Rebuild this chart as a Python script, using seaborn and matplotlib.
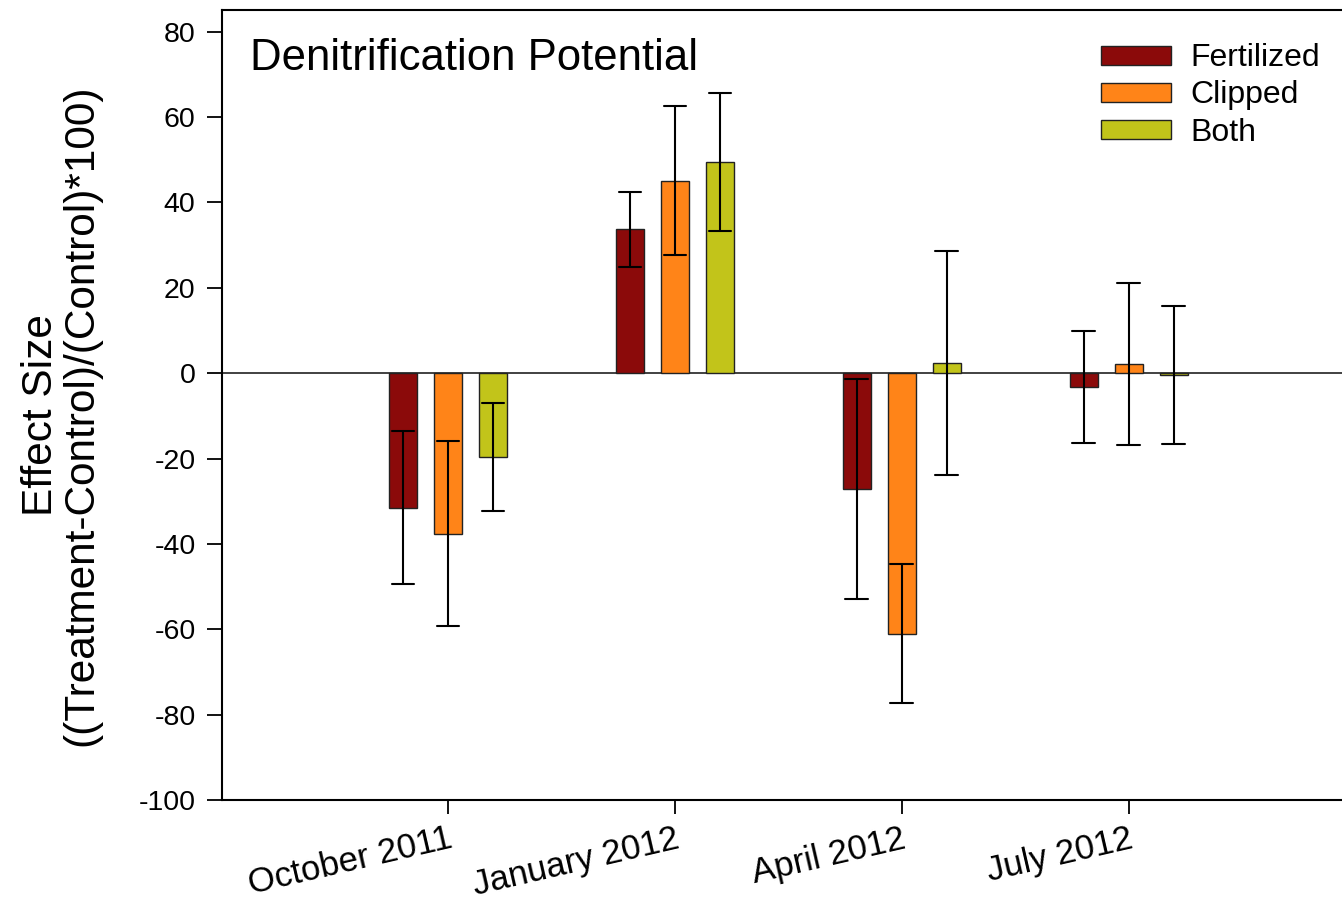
import matplotlib
matplotlib.use("Agg")
import matplotlib.pyplot as plt
import numpy as np
import pandas as pd
import seaborn as sns

# Sampling dates and treatments
dates = ["October 2011", "January 2012", "April 2012", "July 2012"]
treatments = ["Fertilized", "Clipped", "Both"]
colors = ["#8b0a0a", "#ff8418", "#c2c41a"]

# Effect size (%) and its error, per treatment, in date order
fertilized_mean = [-31.5, 33.7, -27.1, -3.2]
fertilized_err = [17.9, 8.7, 25.8, 13.1]
clipped_mean = [-37.6, 45.1, -61.0, 2.2]
clipped_err = [21.6, 17.5, 16.3, 19.0]
both_mean = [-19.6, 49.5, 2.4, -0.35]
both_err = [12.6, 16.1, 26.2, 16.2]

means = {"Fertilized": fertilized_mean, "Clipped": clipped_mean, "Both": both_mean}
errs = {"Fertilized": fertilized_err, "Clipped": clipped_err, "Both": both_err}

# Long table: each bar gets its lower and upper bound, so the mean is the
# bar height and the min/max span is the error bar.
rows = []
for t in treatments:
    for d, m, e in zip(dates, means[t], errs[t]):
        rows.append({"date": d, "treatment": t, "value": m - e})
        rows.append({"date": d, "treatment": t, "value": m + e})
df = pd.DataFrame(rows)

sns.set_theme(style="ticks")
plt.rcParams["font.family"] = ["Liberation Sans", "DejaVu Sans"]
plt.rcParams["axes.unicode_minus"] = False
plt.rcParams["text.color"] = "black"
plt.rcParams["axes.labelcolor"] = "black"

W, H = 1342, 905
fig = plt.figure(figsize=(W / 100, H / 100), dpi=100)
ax = fig.add_axes([222 / W, 105 / H, 1120 / W, 790 / H])

sns.barplot(
    data=df, x="date", y="value", hue="treatment",
    order=dates, hue_order=treatments, palette=colors, saturation=1,
    estimator="mean", errorbar=lambda v: (v.min(), v.max()),
    width=0.595, gap=0.38, capsize=0.3,
    err_kws={"color": "black", "linewidth": 1.5},
    edgecolor="#222222", linewidth=1.0, ax=ax,
)

ax.axhline(0, color="#333333", linewidth=1.3, zorder=0.5)

ax.set_xlim(-0.996, 3.94)
ax.set_ylim(-100, 85.1)
ax.set_yticks(np.arange(-100, 81, 20))
ax.set_xlabel("")
ax.set_ylabel("Effect Size\n((Treatment-Control)/(Control)*100)",
              fontsize=30.5, linespacing=1.0, color="black")
ax.yaxis.set_label_coords(-0.108, 0.487)

for side in ["left", "top", "bottom"]:
    ax.spines[side].set_color("black")
    ax.spines[side].set_linewidth(1.5)
ax.spines["right"].set_visible(False)

ax.tick_params(axis="y", length=11, width=1.3, pad=8, labelsize=20.5,
               colors="black")
ax.tick_params(axis="x", length=10, width=1.3, pad=6, labelsize=25,
               colors="black")
for lab in ax.get_xticklabels():
    lab.set_rotation(13)
    lab.set_ha("right")
    lab.set_rotation_mode("anchor")

ax.text(0.025, 0.939, "Denitrification Potential", transform=ax.transAxes,
        fontsize=31.5, va="center", ha="left", color="black")

sns.move_legend(
    ax, "upper right", bbox_to_anchor=(1.003, 0.99), frameon=False,
    title=None, fontsize=23, handlelength=2.2, handleheight=0.55,
    labelspacing=0.22, handletextpad=0.6, borderpad=0.3,
)
for txt in ax.get_legend().get_texts():
    txt.set_color("black")

fig.savefig("out.png", dpi=100, facecolor="white")
